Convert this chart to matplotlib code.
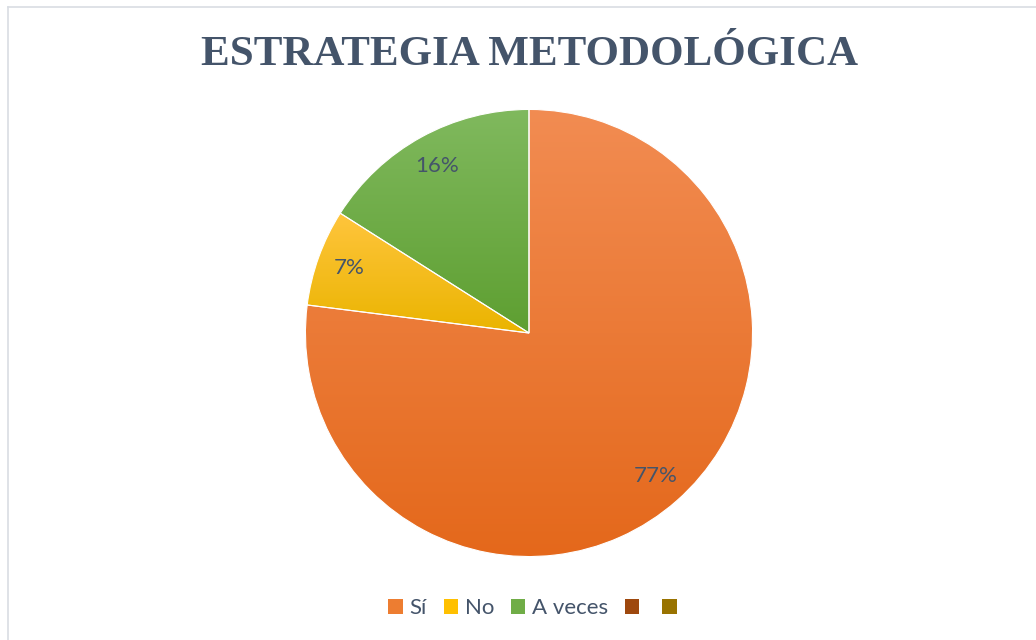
import numpy as np
import matplotlib
matplotlib.use("Agg")
import matplotlib.pyplot as plt
from matplotlib.patches import Patch
from matplotlib.colors import LinearSegmentedColormap
from matplotlib.lines import Line2D

title = "ESTRATEGIA METODOLÓGICA"
categories = ["Sí", "No", "A veces", "", ""]
values = [77, 7, 16, 0, 0]
legend_colors = ["#ED7D31", "#FFC000", "#70AD47", "#9E480E", "#997300"]
grad_top = ["#F28C52", "#FFC53D", "#80B95E", "#9E480E", "#997300"]
grad_bot = ["#E4681B", "#EAB400", "#5E9F31", "#9E480E", "#997300"]
text_color = "#44546A"

fig = plt.figure(figsize=(10.36, 6.4), dpi=100)
fig.patch.set_facecolor("white")

# chart border (top and left)
fig.add_artist(Line2D([8/1036, 8/1036], [0, 1-7/640], transform=fig.transFigure, color="#D9DDE3", lw=1.2))
fig.add_artist(Line2D([8/1036, 1], [1-7/640, 1-7/640], transform=fig.transFigure, color="#D9DDE3", lw=1.2))

cx, cy, r = 529, 333, 224
ax = fig.add_axes([(cx - r)/1036, (640 - cy - r)/640, 2*r/1036, 2*r/640])
ax.set_aspect("equal")
ax.axis("off")

nz = [(c, v, lc, t, b) for c, v, lc, t, b in zip(categories, values, legend_colors, grad_top, grad_bot) if v > 0]
wedges, _ = ax.pie([x[1] for x in nz], colors=[x[2] for x in nz], startangle=90, counterclock=False,
                   radius=1, wedgeprops=dict(edgecolor="white", linewidth=0.8))
ax.set_xlim(-1.002, 1.002)
ax.set_ylim(-1.002, 1.002)

total = sum(values)
for w, (c, v, lc, t, b) in zip(wedges, nz):
    ext = w.get_path().get_extents()
    cmap = LinearSegmentedColormap.from_list("g", [b, t])
    grad = np.linspace(0, 1, 256).reshape(-1, 1)
    im = ax.imshow(grad, cmap=cmap, origin="lower", aspect="auto",
                   extent=[ext.x0, ext.x1, ext.y0, ext.y1], zorder=w.get_zorder() + 0.1)
    im.set_clip_path(w)
    ang = np.deg2rad((w.theta1 + w.theta2) / 2)
    ax.text(0.855*np.cos(ang), 0.855*np.sin(ang), f"{round(v/total*100)}%", ha="center", va="center",
            fontsize=16, color=text_color, family="Lato", zorder=5)
for w in wedges:
    w.set_zorder(3)
    w.set_facecolor("none")

fig.text(530/1036, 1 - 55/640, title, ha="center", va="center", fontsize=31, fontweight="bold",
         family="Liberation Serif", color=text_color)

handles = [Patch(facecolor=c, edgecolor="none") for c in legend_colors]
fig.legend(handles, categories, loc="center", bbox_to_anchor=(536/1036, 1 - 608/640), ncol=5,
           frameon=False, prop=dict(family="Lato", size=16), labelcolor=text_color,
           handlelength=0.65, handleheight=0.65, handletextpad=0.3, columnspacing=0.75)

fig.savefig("out.png", dpi=100, facecolor="white")
